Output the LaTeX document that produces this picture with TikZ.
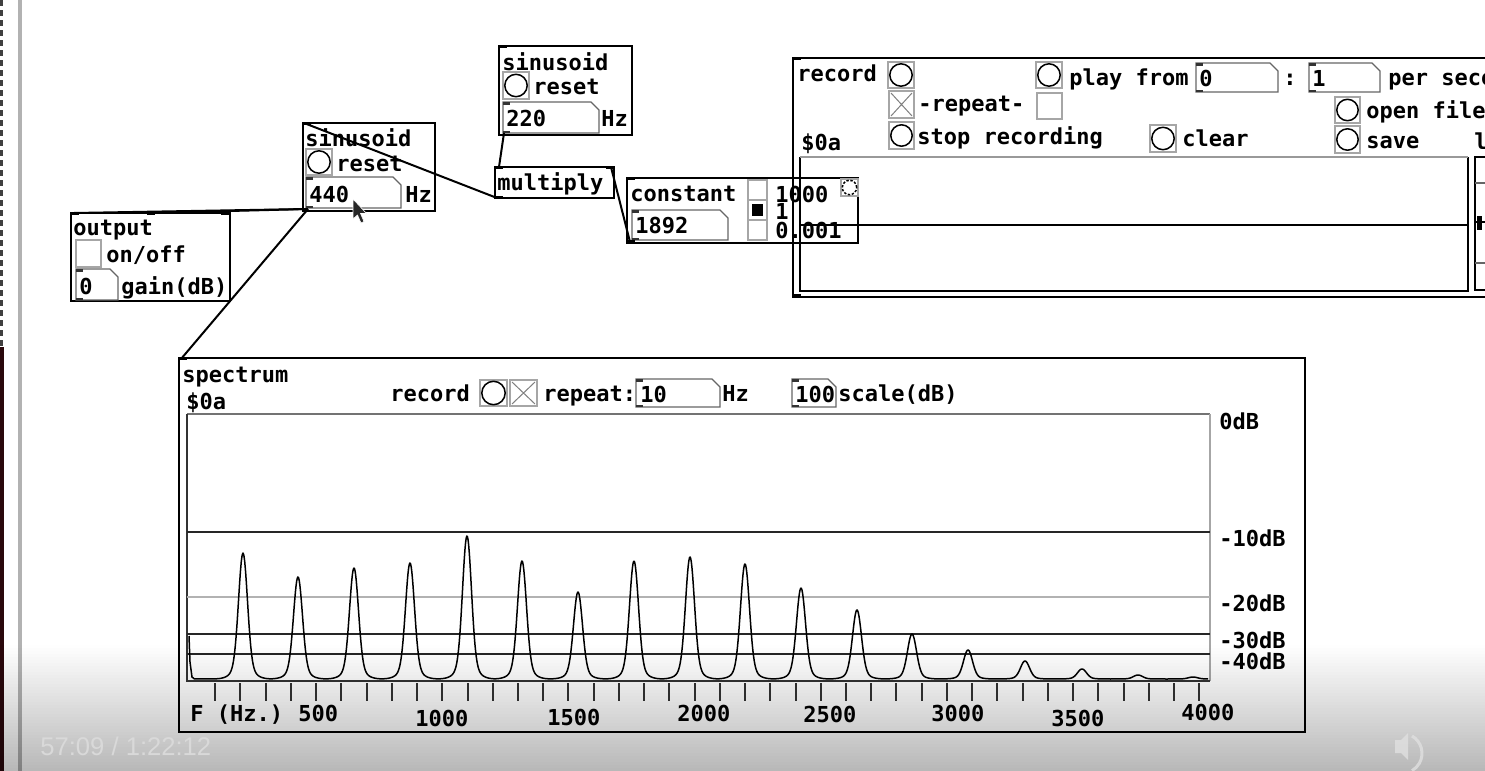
\documentclass[tikz,border=0pt]{standalone}
\usepackage{fontspec}
\newfontfamily\pdfont{DejaVu Sans Mono}
\newfontfamily\vidfont{Liberation Sans}
\definecolor{edgered}{RGB}{42,8,12}
\newcommand\pdobj[5]{\node[pdbox, minimum width={(#4-#2)*0.5pt}, minimum height={(#5-#3)*0.5pt}] (#1) at (#2,#3) {};}
\newcommand\pdbang[4]{\draw[bangsq] (#1,#2) rectangle (#3,#4);
  \draw[bangc] ({(#1+#3)/2},{(#2+#4)/2}) circle[radius={((#3-#1)/2-1.8)*0.5pt}];}
\newcommand\pdtgl[4]{\draw[bangsq] (#1,#2) rectangle (#3,#4);}
\newcommand\pdtglx[4]{\draw[bangsq] (#1,#2) rectangle (#3,#4);
  \draw[black!50, line width=0.5pt] ({#1+2},{#2+2}) -- ({#3-2},{#4-2}) ({#1+2},{#4-2}) -- ({#3-2},{#2+2});}
\newcommand\pdnum[4]{\draw[numb] (#1,#2) -- ({#3-8},#2) -- (#3,{#2+8}) -- (#3,#4) -- (#1,#4) -- cycle;
  \fill[black!80] (#1,#2) rectangle ({#1+7},{#2+2.5});
  \fill[black!80] (#1,#4) rectangle ({#1+7},{#4-2.5});}
\newcommand\pdmark[2]{\fill[black] (#1,#2) rectangle ({#1+8},{#2+3});}
\begin{document}
\begin{tikzpicture}[x=0.5pt,y=-0.5pt,
  pdbox/.style={draw=black, line width=0.75pt, inner sep=0pt, outer sep=0pt, anchor=north west},
  txt/.style={font=\pdfont\bfseries\fontsize{11pt}{11pt}\selectfont, anchor=west, inner sep=0pt, text height=8pt, text depth=0pt},
  conn/.style={line width=1pt, black},
  bangsq/.style={draw=black!35, line width=0.6pt},
  bangc/.style={draw=black, line width=0.75pt},
  numb/.style={draw=black!60, line width=0.7pt},
  tick/.style={line width=1pt, black!80},
  spec/.style={line width=0.75pt, black, line join=round}]
\useasboundingbox (0,0) rectangle (1485,771);
\clip (0,0) rectangle (1485,771);
\fill[white] (0,0) rectangle (1485,771);
% left window edge
\draw[line width=1.5pt, dash pattern=on 3pt off 2pt, black!75] (1.5,0) -- (1.5,347);
\fill[edgered] (0,347) rectangle (3.5,771);
\fill[black!30] (18,0) rectangle (21.5,771);

% ---------- output box ----------
\pdobj{outb}{71}{213}{230}{301}
\node[txt] (tout) at (73,227) {output};
\pdtgl{76}{240}{101}{267}
\node[txt] (tonoff) at (106,254) {on/off};
\pdnum{76}{269}{118}{300}
\node[txt] (tgain0) at (79,286) {0};
\node[txt] (tgain) at (121,286) {gain(dB)};
\pdmark{71}{212}\pdmark{147}{212}\pdmark{221}{212}

% ---------- sinusoid 440 ----------
\pdobj{sinA}{303}{123}{435}{211}
\node[txt] (tsinA) at (305,138) {sinusoid};
\pdbang{306}{149}{332}{175}
\node[txt] (tresA) at (336,163) {reset};
\pdnum{306}{177}{401}{208}
\node[txt] (tfA) at (309,194) {440};
\node[txt] (thzA) at (405,194) {Hz};
\pdmark{303}{122}

% ---------- sinusoid 220 ----------
\pdobj{sinB}{499}{46}{632}{135}
\node[txt] (tsinB) at (502,62) {sinusoid};
\pdbang{503}{72}{529}{99}
\node[txt] (tresB) at (533,86) {reset};
\pdnum{503}{102}{599}{133}
\node[txt] (tfB) at (506,118) {220};
\node[txt] (thzB) at (601,118) {Hz};
\pdmark{499}{45}

% ---------- multiply ----------
\pdobj{mul}{495}{167}{614}{198}
\node[txt] (tmul) at (497,182) {multiply};
\pdmark{495}{166}\pdmark{606}{166}\pdmark{495}{196}

% ---------- record (array) ----------
\pdobj{rec}{793}{58}{1510}{297}
\node[txt] (trec) at (797,74) {record};
\pdbang{888}{62}{914}{88}
\pdbang{1036}{62}{1062}{88}
\node[txt] (tplay) at (1069,77) {play from};
\pdnum{1196}{63}{1278}{92}
\node[txt] (tp0) at (1199,78) {0};
\node[txt] (tcolon) at (1283,77) {:};
\pdnum{1309}{63}{1380}{92}
\node[txt] (tp1) at (1312,78) {1};
\node[txt] (tper) at (1388,77) {per seco};
\pdtglx{889}{91}{914}{118}
\node[txt] (trep) at (918,104) {-repeat-};
\pdtgl{1037}{93}{1062}{119}
\pdbang{1335}{97}{1360}{123}
\node[txt] (topen) at (1366,110) {open file};
\node[txt] (tdol) at (801,142) {\$0a};
\pdbang{889}{122}{914}{149}
\node[txt] (tstop) at (917,136) {stop recording};
\pdbang{1150}{125}{1176}{152}
\node[txt] (tclear) at (1182,138) {clear};
\pdbang{1335}{126}{1360}{153}
\node[txt] (tsave) at (1366,140) {save};
\node[txt] (tl) at (1474,141) {l};
\draw[black, line width=0.9pt] (800,157) -- (800,291) -- (1468,291) -- (1468,157);
\draw[black!40, line width=1.3pt] (800,157) -- (1468,157);
\draw[black, line width=0.9pt] (800,225) -- (1468,225);
\draw[line width=0.9pt] (1475,157) rectangle (1500,290);
\draw[black!60, line width=0.6pt] (1475,183) -- (1500,183) (1475,263) -- (1500,263);
\draw[line width=1pt] (1475,222) -- (1500,222);
\fill (1477,216) rectangle (1482,230);
\pdmark{793}{57}\pdmark{793}{294}

% ---------- constant ----------
\pdobj{const}{627}{178}{858}{243}
\node[txt] (tconst) at (630,193) {constant};
\pdnum{632}{210}{728}{240}
\node[txt] (tcv) at (635,225) {1892};
\draw[bangsq] (748,180) rectangle (767,200) (748,200) rectangle (767,220) (748,220) rectangle (767,240);
\fill[black] (752,204) rectangle (763,216);
\node[txt] (tr1) at (775,194) {1000};
\node[txt] (tr2) at (775,211) {1};
\node[txt] (tr3) at (775,230) {0.001};
\draw[bangsq] (841,179) rectangle (858,196);
\draw[bangc, dash pattern=on 1.2pt off 0.8pt] (849.5,187.5) circle[radius=3.6pt];
\pdmark{627}{177}\pdmark{627}{240}

% ---------- spectrum ----------
\pdobj{spec}{179}{358}{1305}{732}
\node[txt] (tspec) at (182,374) {spectrum};
\node[txt] (tsd) at (186,401) {\$0a};
\node[txt] (tsrec) at (390,393) {record};
\pdbang{480}{380}{507}{406}
\pdtglx{510}{380}{537}{406}
\node[txt] (tsrep) at (543,393) {repeat:};
\pdnum{636}{379}{720}{407}
\node[txt] (ts10) at (640,394) {10};
\node[txt] (tshz) at (722,393) {Hz};
\pdnum{792}{379}{836}{407}
\node[txt] (ts100) at (795,394) {100};
\node[txt] (tsscale) at (838,393) {scale(dB)};
\pdmark{179}{357}
% graph
\draw[black!55, line width=1.4pt] (187,414) -- (1210,414);
\draw[black!35, line width=1pt] (1210,414) -- (1210,681);
\draw[black!80, line width=1pt] (187,414) -- (187,681) -- (1210,681);
\draw[black!85, line width=0.9pt] (187,532) -- (1210,532);
\draw[black!30, line width=1.2pt] (187,597) -- (1210,597);
\draw[black!85, line width=0.9pt] (187,634) -- (1210,634) (187,654) -- (1210,654);
\node[txt] (db0) at (1219,421) {0dB};
\node[txt] (db10) at (1219,538) {-10dB};
\node[txt] (db20) at (1219,603) {-20dB};
\node[txt] (db30) at (1219,640) {-30dB};
\node[txt] (db40) at (1219,661) {-40dB};
\draw[spec] (189,636) -- (190,662) -- (192,677) -- (194,678.5)
  \foreach \c/\H/\a/\b in {243/126/194/270.5, 298/102/270.5/326, 354/111/326/382,
     410/116/382/438.5, 467/143/438.5/494.5, 522/118/494.5/550, 578/87/550/606,
     634/118/606/662, 690/122/662/717.5, 745/115/717.5/773, 801/91/773/829,
     857/69/829/884.5, 912/45/884.5/940, 968/29/940/996.5, 1025/18/996.5/1053.5,
     1082/10/1053.5/1110, 1138/4/1110/1165.5, 1193/2/1165.5/1208}
  { -- plot[domain=\a:\b, samples=90] (\x, {679-\H*(0.9*exp(max(-9,0-((\x-\c)/6.2)^2))+0.1*exp(max(-9,0-((\x-\c)/13)^2)))}) };
\foreach \k in {1,...,40} \draw[tick] ({190+25.23*\k},683) -- ({190+25.23*\k},701);
\node[txt] (fhz) at (190,713) {F (Hz.)};
\node[txt] (f500) at (298,713) {500};
\node[txt] (f1000) at (415,718) {1000};
\node[txt] (f1500) at (547,717) {1500};
\node[txt] (f2000) at (677,713) {2000};
\node[txt] (f2500) at (803,714) {2500};
\node[txt] (f3000) at (931,713) {3000};
\node[txt] (f3500) at (1051,718) {3500};
\node[txt] (f4000) at (1181,712) {4000};

% ---------- connections ----------
\coordinate (o440) at (308,209);
\coordinate (i440) at (304,123);
\coordinate (outL) at (74,213);
\coordinate (outM) at (151,213);
\coordinate (specIn) at (181,359);
\coordinate (mulOut) at (497,198);
\coordinate (mulL) at (499,167);
\coordinate (mulR) at (611,167);
\coordinate (o220) at (504,133);
\coordinate (constOut) at (630,242);
\draw[conn] (o440) -- (outL);
\draw[conn] (o440) -- (outM);
\draw[conn] (o440) -- (specIn);
\draw[conn] (mulOut) -- (i440);
\draw[conn] (o220) -- (mulL);
\draw[conn] (constOut) -- (mulR);

% mouse cursor
\filldraw[fill=black!85, draw=white, line width=0.3pt] (353,199) -- (353,219) -- (357.5,215) -- (361,223) -- (364,221.5) -- (360.5,213.5) -- (366.5,213.5) -- cycle;

% ---------- video overlay ----------
\foreach \i in {0,...,41} {
  \pgfmathsetmacro\op{0.28*(\i+0.5)/42}
  \fill[black, fill opacity=\op] (0,{645+3*\i}) rectangle (1485,{648+3*\i});
}
\node[font=\vidfont\fontsize{12.8pt}{12.8pt}\selectfont, text=black!15, anchor=west, inner sep=0pt] (vtime) at (40,746) {57:09 / 1:22:12};
\fill[black!12, fill opacity=0.8] (1395,740) -- (1401,740) -- (1408,733) -- (1408,760) -- (1401,753) -- (1395,753) -- cycle;
\draw[black!12, draw opacity=0.8, line width=1.5pt] (1412,736) arc[start angle=60, end angle=-60, radius=10pt];
\end{tikzpicture}
\end{document}
